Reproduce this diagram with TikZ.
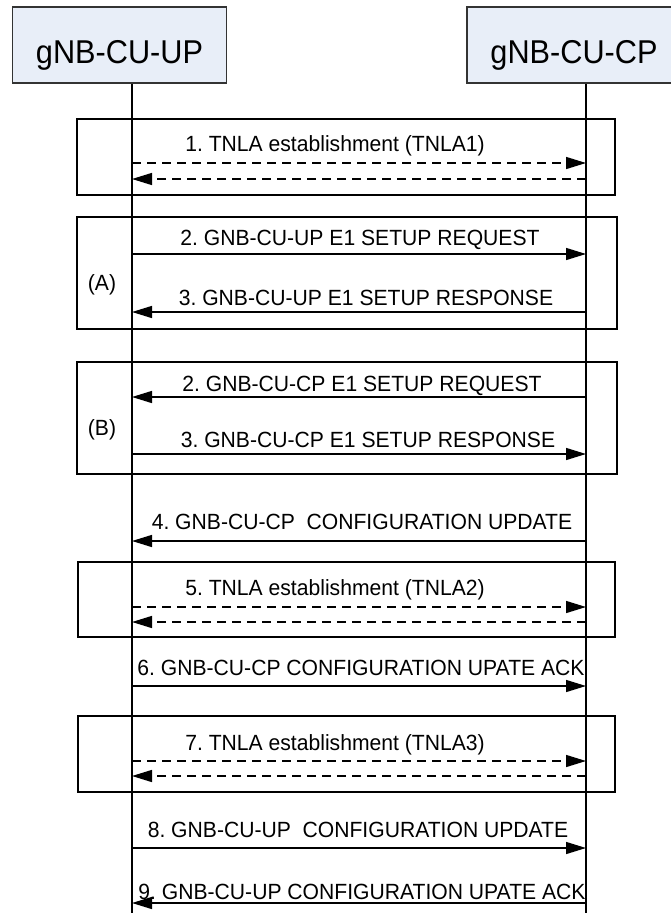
\documentclass[tikz,border=0pt]{standalone}
\usepackage{fontspec}
\setmainfont{Liberation Sans}
\newfontfamily\hdrfont[FakeStretch=0.93]{Liberation Sans}
\newfontfamily\msgfont[FakeStretch=0.96]{Liberation Sans}
\usepackage{tikz}
\usetikzlibrary{arrows.meta,calc,positioning}
\frenchspacing
\definecolor{hdrfill}{HTML}{E8EEF8}
\tikzstyle{entity}=[draw=black!80, fill=hdrfill, line width=1.5pt,
                    minimum width=214pt, minimum height=76pt, inner sep=0pt,
                    font=\hdrfont\fontsize{33}{36}\selectfont,
                    text height=36pt, text depth=0pt]
\tikzstyle{life}  =[line width=1.4pt]
\tikzstyle{grp}   =[line width=2pt]
\tikzstyle{msg}   =[line width=1.4pt, >={Triangle[length=20pt,width=12pt]}]
\tikzstyle{tnla}  =[msg, dash pattern=on 9pt off 6pt]
\tikzstyle{lbl}   =[font=\msgfont\fontsize{22}{26}\selectfont,
                    inner sep=0pt, anchor=base]

\begin{document}
\begin{tikzpicture}[x=1pt, y=-1pt]
    \useasboundingbox (0,0) rectangle (671,913);

    \node[entity] (up) at (119.5,45) {gNB-CU-UP};
    \node[entity] (cp) at (574,45) {gNB-CU-CP};
    \coordinate (upend) at (132,913);
    \coordinate (cpend) at (586,913);
    \draw[life] (upend |- up.south) -- (upend);
    \draw[life] (cpend |- cp.south) -- (cpend);

    % group frames
    \draw[grp] (77,119) rectangle (615,195);
    \draw[grp] (77,217) rectangle (617,329);
    \draw[grp] (77,362) rectangle (617,474);
    \draw[grp] (78,562) rectangle (615,637);
    \draw[grp] (78,716) rectangle (615,792);
    \node[lbl] (ga) at (102,290) {(A)};
    \node[lbl] (gb) at (102,435) {(B)};

    \foreach \n/\y in {1a/163,1b/179,2/254,3/312,B2/397,B3/454,4/541,
                       5a/607,5b/622,6/686,7a/761,7b/776,8/848,9/903}{
        \coordinate (u\n) at (132,\y);
        \coordinate (c\n) at (586,\y);
    }

    \draw[tnla,->] (u1a) -- (c1a);
    \draw[tnla,->] (c1b) -- (u1b);
    \draw[msg,->]  (u2)  -- (c2);
    \draw[msg,->]  (c3)  -- (u3);
    \draw[msg,->]  (cB2) -- (uB2);
    \draw[msg,->]  (uB3) -- (cB3);
    \draw[msg,->]  (c4)  -- (u4);
    \draw[tnla,->] (u5a) -- (c5a);
    \draw[tnla,->] (c5b) -- (u5b);
    \draw[msg,->]  (u6)  -- (c6);
    \draw[tnla,->] (u7a) -- (c7a);
    \draw[tnla,->] (c7b) -- (u7b);
    \draw[msg,->]  (u8)  -- (c8);
    \draw[msg,->]  (c9)  -- (u9);

    \node[lbl] (t1)  at (335,151) {1. TNLA establishment (TNLA1)};
    \node[lbl] (t2)  at (360,245) {2. GNB-CU-UP E1 SETUP REQUEST};
    \node[lbl] (t3)  at (366,305) {3. GNB-CU-UP E1 SETUP RESPONSE};
    \node[lbl] (tB2) at (362,391) {2. GNB-CU-CP E1 SETUP REQUEST};
    \node[lbl] (tB3) at (368,447) {3. GNB-CU-CP E1 SETUP RESPONSE};
    \node[lbl] (t4)  at (362,529) {4. GNB-CU-CP~ CONFIGURATION UPDATE};
    \node[lbl] (t5)  at (335,595) {5. TNLA establishment (TNLA2)};
    \node[lbl] (t6)  at (361,675) {6. GNB-CU-CP CONFIGURATION UPATE ACK};
    \node[lbl] (t7)  at (335,750) {7. TNLA establishment (TNLA3)};
    \node[lbl] (t8)  at (358,837) {8. GNB-CU-UP~ CONFIGURATION UPDATE};
    \node[lbl] (t9)  at (362,899) {9. GNB-CU-UP CONFIGURATION UPATE ACK};
\end{tikzpicture}
\end{document}
